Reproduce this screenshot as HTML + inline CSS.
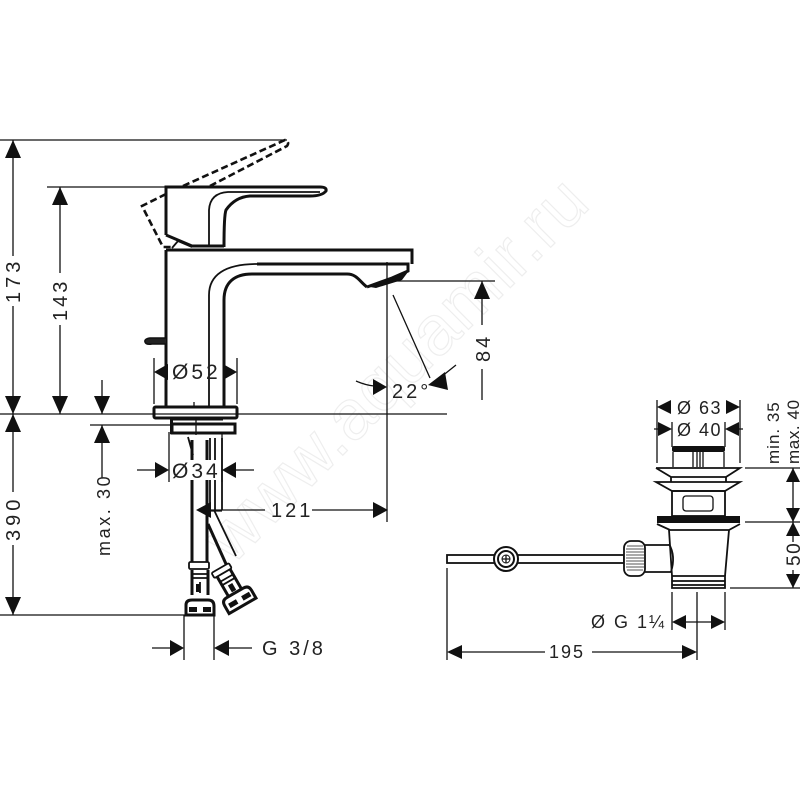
<!DOCTYPE html>
<html><head><meta charset="utf-8"><style>
html,body{margin:0;padding:0;background:#fff}
svg{display:block}
text{font-family:"Liberation Sans",sans-serif;fill:#222;font-size:20px;letter-spacing:3px}
.t{stroke:#111;stroke-width:1.3;fill:none}
.m{stroke:#111;stroke-width:1.8;fill:none}
.b{stroke:#111;stroke-width:3;fill:none}
.a{fill:#111;stroke:none}
</style></head><body>
<svg width="800" height="800" viewBox="0 0 800 800" xmlns="http://www.w3.org/2000/svg">
<text transform="translate(232,566) rotate(-45)" style="font-size:70px;fill:#fff;stroke:#eee;stroke-width:1.2;letter-spacing:1px" textLength="510">www.aquamir.ru</text>

<!-- faucet -->
<path class="b" d="M166 250V407"/>
<path class="b" d="M166 250H412V264"/>
<path class="b" d="M257 264H400"/>
<path class="m" d="M209 407V295C209 275 225 264 257 264"/>
<path class="b" d="M224 407V300C224 282 235 274 252 274H347C357 274 360 282 367 287"/>
<path class="b" d="M400 264H408V271L392 278L367 287"/>
<path class="a" d="M370 287L408 272L402 280L376 288Z"/>
<!-- handle -->
<path class="b" d="M166 235V187H320Q327 187 326 191Q322 196 310 196H250Q235 197 226 210Q224 215 224 247"/>
<path class="m" d="M209 247V210Q210 193 228 192H320"/>
<path class="b" d="M166 235L192 246H224"/>
<path class="m" d="M172 248L178 241L192 247"/>
<path class="b" d="M172 250H194"/>
<!-- dashed -->
<path d="M183 186L285 140Q290 142 287 146L210 186" fill="none" stroke="#111" stroke-width="2.6" stroke-dasharray="7 3.5"/>
<path d="M166 194L142 206L163 247H174" fill="none" stroke="#111" stroke-width="2.6" stroke-dasharray="7 3.5"/>
<!-- pop-up lever -->
<path d="M166 338H150Q144 339 145 342Q146 345 152 344H166" fill="#222" stroke="#111" stroke-width="1.5"/>
<!-- base -->
<rect x="154" y="407" width="83" height="11" class="b" rx="1.5"/>
<path class="b" d="M170 419H223"/>
<path class="t" d="M194 402V407M196 418V435"/>
<rect x="172" y="424" width="63" height="9" class="b"/>
<rect x="170" y="418" width="3" height="16" class="a"/>
<!-- hoses -->
<path class="b" d="M192 440V562M207 440V562"/>
<path class="m" d="M210 438V505M215 438V510M222 438V510"/>
<path d="M188 437L193 455" class="m"/>
<path class="b" d="M208 524L226 564"/>
<path class="m" d="M214 510L236 556"/>
<rect x="171" y="460" width="50" height="20" fill="#fff"/>
<!-- connector 1 -->
<rect x="189" y="562" width="20" height="7" class="m" rx="1.5"/>
<path class="b" d="M192 570V595M208 570V595"/>
<path class="m" d="M192 574H208M192 578H208M200 582V593"/>
<rect x="196" y="584" width="4" height="8" class="a"/>
<path class="b" d="M186 615V605Q186 600 192 600H208Q214 600 214 606V615Z"/>
<rect x="189" y="607" width="8" height="5" class="a"/>
<rect x="203" y="607" width="8" height="5" class="a"/>
<!-- connector 2 -->
<g transform="translate(234,590) rotate(-30)">
<rect x="-11" y="-26" width="20" height="6" class="m" rx="1.5"/>
<path class="b" d="M-8 -20V2M7 -20V2"/>
<path class="m" d="M-8 -14H7M-8 -10H7"/>
<rect x="-3" y="-7" width="5" height="8" class="a"/>
<path class="b" d="M-16 18V9Q-16 3 -10 3H9Q15 3 15 9V18Z"/>
<rect x="-12" y="9" width="9" height="5" class="a"/>
<rect x="3" y="9" width="9" height="5" class="a"/>
</g>

<!-- dim lines left -->
<path class="t" d="M0 140H287M0 414H447M0 615H186M47 187H166M90 425H170"/>
<path class="t" d="M13 140V256M13 306V414M13 414V492M13 545V615M60 187V273M60 325V414"/>
<path class="a" d="M13 140L5 158H21ZM13 414L5 396H21ZM13 414L5 432H21ZM13 615L5 597H21ZM60 187L52 205H68ZM60 414L52 396H68Z"/>
<text transform="translate(20,303) rotate(-90)" style="letter-spacing:4px">173</text>
<text transform="translate(20,541) rotate(-90)" style="letter-spacing:4px">390</text>
<text transform="translate(67,321) rotate(-90)">143</text>
<!-- max 30 -->
<path class="t" d="M102 380V414M102 425V478"/>
<path class="a" d="M102 414L94 396H110ZM102 425L94 443H110Z"/>
<text transform="translate(110,556) rotate(-90)" style="font-size:18px;letter-spacing:2.6px">max. 30</text>
<!-- Ø52 -->
<path class="t" d="M154 358V404M237 358V404"/>
<path class="a" d="M154 372L168 364V380ZM237 372L223 364V380Z"/>
<text x="172" y="379" style="font-size:21px">Ø52</text>
<!-- Ø34 -->
<path class="t" d="M169 432V482M222 432V482M137 470H156M236 470H254"/>
<path class="a" d="M169 470L155 462V478ZM222 470L236 462V478Z"/>
<text x="172" y="478" style="font-size:21px">Ø34</text>
<!-- 121 -->
<path class="t" d="M210 510H265M312 510H374M222 511H210"/>
<path class="a" d="M196 510L211 502V518ZM388 510L373 502V518Z"/>
<text x="271" y="517">121</text>
<path class="t" d="M387 262V522"/>
<!-- 22 -->
<path class="t" d="M356 381Q365 385 374 386M393 295L430 378M441 377L456 365"/>
<path class="a" d="M387 387L373 379V395ZM428 385L445 372L448 390Z"/>
<text x="392" y="398">22°</text>
<!-- 84 -->
<path class="t" d="M395 281H495M482 281V325M482 369V400"/>
<path class="a" d="M482 281L474 299H490Z"/>
<text transform="translate(490,362) rotate(-90)">84</text>
<!-- G3/8 -->
<path class="t" d="M184 615V660M214 615V660M152 648H172M228 648H252"/>
<path class="a" d="M184 648L170 640V656ZM214 648L229 640V656Z"/>
<text x="262" y="655" style="font-size:20px">G 3/8</text>

<!-- drain -->
<rect x="447" y="555" width="177" height="8" class="m"/>
<circle cx="506" cy="559" r="12" fill="#fff" stroke="#111" stroke-width="2"/>
<circle cx="506" cy="559" r="8" fill="#fff" stroke="#111" stroke-width="2"/>
<circle cx="506" cy="559" r="4" fill="#fff" stroke="#111" stroke-width="1"/>
<path class="t" d="M502 559H510M506 555V563"/>
<rect x="624" y="541" width="21" height="35" rx="7" fill="#fff" stroke="#111" stroke-width="1.8"/>
<path stroke="#555" stroke-width="1" d="M627 546H643M626 549H644M626 552H644M626 555H644M626 558H644M626 561H644M626 564H644M626 567H644M627 570H643"/>
<path class="m" d="M645 545H669M645 572H672"/>
<path class="m" d="M669 544Q676 556 671 572"/>
<path class="m" d="M669 530L672 576M729 530L725 576"/>
<path class="m" d="M672 576V588H725V576H672M672 581H725M672 585H725"/>
<path class="m" d="M657 524L670 530H729L740 524"/>
<rect x="657" y="516" width="83" height="7" class="a"/>
<rect x="672" y="491" width="53" height="25" class="m" fill="#fff"/>
<rect x="683" y="496" width="30" height="15" rx="3" class="t"/>
<path class="m" d="M656 482H740L725 491H672Z"/>
<path class="m" d="M656 468H740L726 477V482M656 468L671 477V482M671 477H726"/>
<rect x="672" y="446" width="53" height="6" rx="2" class="a"/>
<path class="t" d="M673 452V467M724 452V467M693 452V467M697 452V467M700 452V467M703 452V467"/>

<!-- drain dims -->
<path class="t" d="M657 400V463M740 400V463M672 422V447M725 422V447M654 429H660M737 429H743"/>
<path class="a" d="M657 407L671 400V414ZM740 407L726 400V414ZM672 429L658 422V436ZM725 429L739 422V436Z"/>
<text x="677" y="414" style="font-size:18px;letter-spacing:1.5px">Ø 63</text>
<text x="677" y="436" style="font-size:18px;letter-spacing:1.5px">Ø 40</text>
<text transform="translate(779,464) rotate(-90)" style="font-size:17px;letter-spacing:1px">min. 35</text>
<text transform="translate(799,464) rotate(-90)" style="font-size:17px;letter-spacing:.6px">max. 40</text>
<path class="t" d="M745 468H800M745 522H800M730 588H800M793 468V522M793 522V542M793 570V588"/>
<path class="a" d="M793 468L786 482H800ZM793 522L786 508H800ZM793 522L786 536H800ZM793 588L786 574H800Z"/>
<text transform="translate(800,566) rotate(-90)" style="font-size:19px;letter-spacing:1.5px">50</text>

<path class="t" d="M672 592V630M725 592V630M686 622H712M697 592V660"/>
<path class="a" d="M672 622L686 615V629ZM725 622L711 615V629Z"/>
<text x="591" y="628" style="font-size:18px;letter-spacing:2px">Ø G 1¼</text>
<path class="t" d="M447 568V660M460 652H545M592 652H684"/>
<path class="a" d="M447 652L462 645V659ZM697 652L682 645V659Z"/>
<text x="549" y="658" style="font-size:18px;letter-spacing:2px">195</text>
</svg>
</body></html>
